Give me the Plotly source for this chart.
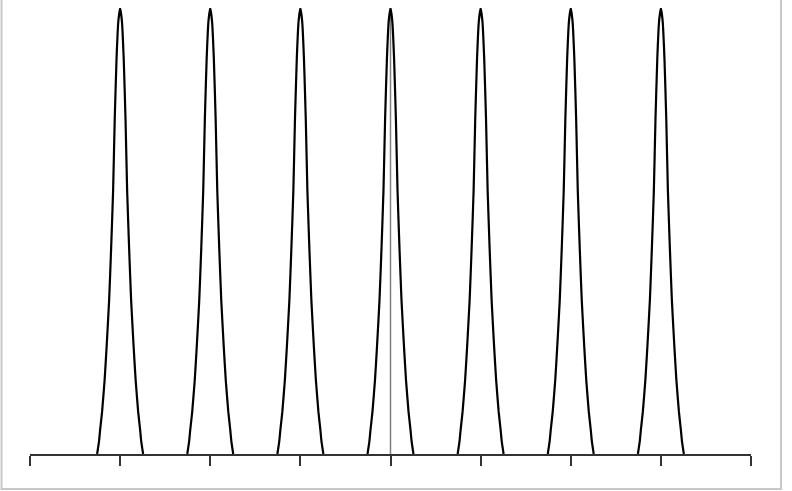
import plotly.graph_objects as go

# peak centres on the x axis (one peak per integer 1..7)
peak_centers = [1, 2, 3, 4, 5, 6, 7]

# half-profile of a single peak: offset from centre -> height
profile_offsets = [0.0, 0.02, 0.04, 0.06, 0.078, 0.10, 0.122, 0.15, 0.172, 0.20, 0.222, 0.235, 0.255]
profile_heights = [1.0, 0.97, 0.885, 0.75, 0.59, 0.46, 0.345, 0.24, 0.166, 0.095, 0.054, 0.027, 0.0]

# axis ticks (no labels)
tick_vals = [0, 1, 2, 3, 4, 5, 6, 7, 8]

# marker line at the centre peak
center_line_x = 4

W, H = 792, 491
L, R, T, B = 30, 41, 8, 37

fig = go.Figure()

# full symmetric profile
offs = [-o for o in profile_offsets[::-1]] + profile_offsets[1:]
hts = profile_heights[::-1] + profile_heights[1:]

# thin grey vertical reference line (drawn first so the peak sits on top)
fig.add_trace(go.Scatter(
    x=[center_line_x, center_line_x],
    y=[0, 1],
    mode="lines",
    line=dict(color="#7f7f7f", width=1.5),
    hoverinfo="skip",
    showlegend=False,
))

for c in peak_centers:
    fig.add_trace(go.Scatter(
        x=[c + o for o in offs],
        y=hts,
        mode="lines",
        line=dict(color="black", width=2.2, shape="spline", smoothing=0.4),
        cliponaxis=False,
        showlegend=False,
    ))

pw = W - L - R
ph = H - T - B
fig.add_shape(
    type="rect",
    xref="paper", yref="paper",
    x0=(1.5 - L) / pw, x1=(781 - L) / pw,
    y0=-(489 - (H - B)) / ph, y1=1.2,
    line=dict(color="#c8c8c8", width=2),
    layer="below",
)

fig.update_layout(
    width=W,
    height=H,
    margin=dict(l=L, r=R, t=T, b=B),
    paper_bgcolor="white",
    plot_bgcolor="white",
    showlegend=False,
)

fig.update_xaxes(
    range=[0, 8],
    tickvals=tick_vals,
    showticklabels=False,
    ticks="outside",
    ticklen=10,
    tickwidth=1.5,
    tickcolor="#333333",
    showline=True,
    linecolor="#333333",
    linewidth=1.5,
    showgrid=False,
    zeroline=False,
)

fig.update_yaxes(
    range=[0, 1],
    visible=False,
    showgrid=False,
    zeroline=False,
)

# drop the default page margin so the figure sits at the window's top-left corner
fig.write_html(
    "out.html",
    config={"displayModeBar": False},
    post_script="document.body.style.margin='0';document.body.style.overflow='hidden';",
)
